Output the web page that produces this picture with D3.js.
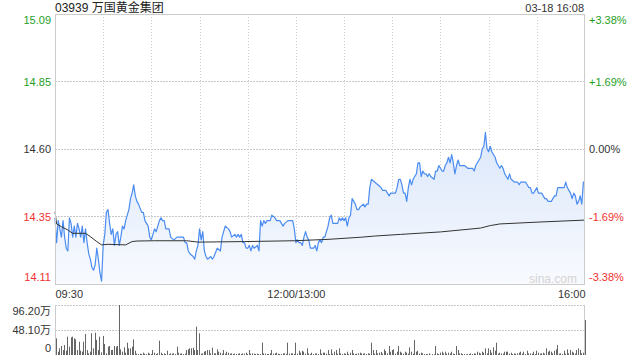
<!DOCTYPE html>
<html>
<head>
<meta charset="utf-8">
<style>
  body { margin: 0; background: #fff; }
</style>
</head>
<body>
<svg width="640" height="360"></svg>
<script src="https://d3js.org/d3.v7.min.js"></script>
<script>
  var title = "03939 万国黄金集团",
      stamp = "03-18 16:08",
      preClose = 14.60;

  var priceTicks = [14.11, 14.355, 14.60, 14.845, 15.09],
      priceLabels = ["14.11", "14.35", "14.60", "14.85", "15.09"],
      pctLabels = ["-3.38%", "-1.69%", "0.00%", "+1.69%", "+3.38%"];

  var timeTicks = [0, 150, 330],
      timeLabels = ["09:30", "12:00/13:00", "16:00"],
      gridMinutes = [30, 60, 90, 120, 150, 180, 210, 240, 270, 300];

  var volTicks = [0, 48.1, 96.2],
      volLabels = ["0", "48.10万", "96.20万"];

  // minute index from 09:30 (lunch break removed), last price
  var priceMinutes = [
    0,1,2,3,4,5,6,7,8,9,10,11,12,13,14,15,16,17,18,19,
    20,21,22,23,24,25,26,27,28,29,30,31,32,33,34,35,36,37,38,39,
    40,41,42,43,44,45,46,47,48,49,50,51,52,54,55,56,58,59,60,61,
    62,63,64,65,66,67,68,69,70,71,72,74,76,78,80,81,82,83,84,86,
    87,88,89,90,91,92,93,94,95,97,98,99,101,103,104,105,106,108,109,110,
    112,113,114,115,116,117,118,119,120,121,122,123,124,126,127,128,129,130,131,132,
    134,135,137,138,140,141,142,143,145,146,148,149,150,151,152,153,154,155,156,157,
    158,159,161,162,163,164,165,166,167,168,169,170,171,172,173,175,176,177,178,179,
    180,181,182,183,184,185,186,187,188,189,190,192,193,194,195,196,197,199,201,203,
    204,206,208,209,210,211,212,213,214,215,216,217,218,219,220,221,222,223,224,225,
    226,227,228,229,230,231,232,233,234,236,237,238,239,240,241,242,243,244,245,246,
    247,248,249,250,251,252,253,255,257,259,260,261,262,263,265,266,267,268,269,270,
    271,272,273,274,275,276,277,278,279,280,281,282,283,284,286,288,289,290,293,294,
    295,296,297,298,299,300,301,302,303,304,305,306,307,308,309,310,311,312,313,314,
    316,317,318,319,320,321,322,323,324,325,326,327,328,329,330
  ];
  var prices = [
    14.35,14.26,14.34,14.31,14.28,14.34,14.28,14.24,14.23,14.35,14.33,14.28,14.32,14.28,14.33,14.31,14.28,14.32,14.26,14.31,
    14.26,14.22,14.20,14.17,14.16,14.18,14.24,14.20,14.15,14.12,14.25,14.29,14.37,14.38,14.33,14.29,14.31,14.25,14.29,14.30,
    14.25,14.28,14.32,14.31,14.34,14.36,14.38,14.42,14.44,14.47,14.43,14.41,14.40,14.37,14.37,14.34,14.32,14.28,14.27,14.29,
    14.31,14.30,14.32,14.34,14.35,14.34,14.34,14.31,14.31,14.31,14.28,14.27,14.28,14.28,14.28,14.26,14.26,14.23,14.22,14.21,
    14.20,14.23,14.25,14.31,14.27,14.30,14.23,14.21,14.20,14.21,14.20,14.21,14.24,14.23,14.28,14.30,14.32,14.31,14.30,14.28,
    14.29,14.28,14.29,14.28,14.29,14.26,14.26,14.24,14.24,14.25,14.23,14.25,14.24,14.25,14.23,14.34,14.32,14.34,14.33,14.34,
    14.34,14.36,14.35,14.34,14.34,14.33,14.32,14.33,14.34,14.34,14.34,14.31,14.26,14.27,14.26,14.26,14.25,14.28,14.30,14.28,
    14.27,14.24,14.24,14.25,14.23,14.26,14.27,14.26,14.28,14.28,14.30,14.32,14.35,14.36,14.33,14.33,14.33,14.35,14.34,14.35,
    14.34,14.35,14.32,14.35,14.36,14.42,14.41,14.40,14.38,14.38,14.39,14.40,14.39,14.40,14.40,14.46,14.49,14.48,14.47,14.46,
    14.45,14.45,14.43,14.44,14.44,14.44,14.44,14.46,14.49,14.49,14.47,14.44,14.44,14.41,14.46,14.49,14.47,14.49,14.50,14.51,
    14.55,14.55,14.50,14.52,14.51,14.51,14.50,14.51,14.50,14.49,14.52,14.52,14.54,14.53,14.52,14.52,14.54,14.55,14.57,14.55,
    14.58,14.55,14.51,14.54,14.56,14.54,14.54,14.54,14.53,14.53,14.53,14.52,14.54,14.55,14.57,14.60,14.61,14.66,14.60,14.59,
    14.61,14.59,14.58,14.57,14.55,14.54,14.53,14.54,14.53,14.51,14.50,14.49,14.51,14.49,14.48,14.48,14.47,14.48,14.48,14.47,
    14.46,14.46,14.44,14.44,14.45,14.46,14.44,14.44,14.44,14.43,14.42,14.42,14.41,14.41,14.41,14.42,14.43,14.43,14.46,14.46,
    14.46,14.46,14.48,14.46,14.45,14.44,14.42,14.44,14.43,14.40,14.41,14.43,14.40,14.48,14.48
  ];

  // average price line
  var avgMinutes = [0,1,4,8,11,19,22,26,29,33,44,48,51,62,82,89,118,149,170,191,199,215,240,265,271,277,302,330];
  var avgPrices = [14.372,14.328,14.318,14.306,14.294,14.294,14.282,14.264,14.252,14.254,14.252,14.264,14.266,14.267,
                   14.267,14.262,14.264,14.267,14.272,14.280,14.284,14.290,14.299,14.313,14.322,14.328,14.335,14.342];

  // volume per minute, in 万 shares
  var volumes = [
    10.9,32.1,6.4,12.8,17.3,9.6,19.2,8.3,35.3,16.0,
    34.0,35.3,32.1,30.1,9.6,25.6,8.3,6.4,25.6,40.4,
    9.6,3.2,6.4,41.7,12.8,42.9,28.9,9.6,35.3,5.1,
    36.6,21.2,3.2,16.0,17.3,9.6,9.6,17.3,16.0,17.3,
    96.2,10.9,6.4,14.7,4.5,23.7,12.8,12.8,16.0,30.1,
    8.3,2.6,1.9,2.6,1.9,4.5,2.6,1.9,4.5,2.6,
    1.9,9.6,4.5,1.9,3.2,27.6,4.5,1.9,3.2,1.9,
    8.3,1.9,3.2,2.6,3.2,1.9,16.0,4.5,2.6,3.2,
    1.9,2.6,9.6,10.9,12.8,12.8,14.1,9.6,54.5,9.6,
    41.7,2.6,3.2,6.4,7.7,9.6,9.6,3.2,14.1,3.2,
    3.2,10.9,6.4,4.5,2.6,9.6,2.6,6.4,4.5,2.6,
    3.2,1.9,2.6,1.9,2.6,3.2,1.9,3.2,2.6,4.5,
    1.9,9.6,2.6,3.2,2.6,1.9,2.6,1.9,1.9,23.7,
    3.2,2.6,1.9,1.9,3.2,9.6,2.6,3.2,4.5,2.6,
    1.9,1.9,3.2,3.2,1.9,23.7,2.6,3.2,3.2,1.9,
    23.7,2.6,8.3,4.5,8.3,6.4,2.6,12.8,3.2,1.9,
    4.5,1.9,2.6,3.2,1.9,10.9,2.6,4.5,4.5,2.6,
    9.6,1.9,10.9,2.6,6.4,9.6,2.6,12.8,3.2,1.9,
    3.2,2.6,6.4,1.9,4.5,9.6,3.2,1.9,2.6,3.2,
    4.5,3.2,2.6,3.2,1.9,3.2,2.6,23.7,9.6,2.6,
    9.6,3.2,4.5,5.8,2.6,10.9,7.7,3.2,17.3,6.4,
    9.6,10.9,2.6,6.4,17.3,6.4,4.5,2.6,6.4,4.5,
    2.6,14.7,6.4,2.6,28.9,6.4,8.3,2.6,4.5,3.2,
    1.9,1.9,1.9,3.2,0.6,1.9,1.3,17.3,3.2,1.9,
    4.5,6.4,3.2,6.4,2.6,4.5,3.2,6.4,2.6,1.9,
    17.3,9.6,3.2,3.2,1.9,1.9,1.3,1.9,1.9,3.2,
    1.9,3.2,2.6,6.4,4.5,2.6,6.4,4.5,12.8,3.2,
    12.8,9.6,4.5,14.7,8.3,23.7,2.6,4.5,3.2,2.6,
    6.4,6.4,6.4,2.6,4.5,1.9,3.2,2.6,3.2,4.5,
    6.4,2.6,6.4,1.9,8.3,3.2,3.2,2.6,6.4,1.9,
    8.3,4.5,2.6,3.2,4.5,2.6,12.8,6.4,8.3,6.4,
    3.2,8.3,10.9,19.2,2.6,3.2,1.9,8.3,2.6,10.9,
    3.2,9.6,6.4,4.5,2.6,9.6,12.8,9.6,3.2,4.5,
    67.3
  ];

  var FONT = "'Liberation Sans', Arial, 'Noto Sans CJK SC', sans-serif",
      UP = "#1fa01f", DOWN = "#f03232", FLAT = "#333";

  var svg = d3.select("svg"),
      pLeft = 55, pRight = 585, pTop = 14, pBottom = 284,
      vTop = 305, vBottom = 355;

  var x = d3.scaleLinear().domain([0, 330]).range([pLeft, pRight]);
  var y = d3.scaleLinear().domain([14.11, 15.09]).range([pBottom, pTop]);
  var vy = d3.scaleLinear().domain([0, 96.2]).range([vBottom, vTop]);

  function tone(v) { return v > preClose + 1e-9 ? UP : (v < preClose - 1e-9 ? DOWN : FLAT); }

  var defs = svg.append("defs");
  var grad = defs.append("linearGradient").attr("id", "fill")
      .attr("gradientUnits", "userSpaceOnUse")
      .attr("x1", 0).attr("y1", y(14.66)).attr("x2", 0).attr("y2", pBottom);
  grad.append("stop").attr("offset", "0%").attr("stop-color", "#dbe7fb");
  grad.append("stop").attr("offset", "100%").attr("stop-color", "#f8fafe");

  // grid
  svg.append("g").selectAll("line").data(gridMinutes).enter().append("line")
      .attr("x1", function(d) { return Math.round(x(d)) + 0.5; })
      .attr("x2", function(d) { return Math.round(x(d)) + 0.5; })
      .attr("y1", pTop).attr("y2", pBottom)
      .attr("stroke", "#cfcfcf").attr("stroke-dasharray", "1,2");
  svg.append("g").selectAll("line").data(priceTicks.slice(1, 4)).enter().append("line")
      .attr("x1", pLeft).attr("x2", pRight)
      .attr("y1", function(d) { return Math.round(y(d)) + 0.5; })
      .attr("y2", function(d) { return Math.round(y(d)) + 0.5; })
      .attr("stroke", "#c8c8c8").attr("stroke-dasharray", "2,1");

  var pts = priceMinutes.map(function(m, i) { return [m, prices[i]]; });
  var avg = avgMinutes.map(function(m, i) { return [m, avgPrices[i]]; });

  svg.append("path").datum(pts)
      .attr("fill", "url(#fill)")
      .attr("d", d3.area().x(function(d) { return x(d[0]); }).y0(pBottom).y1(function(d) { return y(d[1]); }));

  svg.append("path").datum(pts)
      .attr("fill", "none").attr("stroke", "#4a8cf0").attr("stroke-width", 1.2)
      .attr("stroke-linejoin", "round")
      .attr("d", d3.line().x(function(d) { return x(d[0]); }).y(function(d) { return y(d[1]); }));

  svg.append("path").datum(avg)
      .attr("fill", "none").attr("stroke", "#333").attr("stroke-width", 1)
      .attr("d", d3.line().x(function(d) { return x(d[0]); }).y(function(d) { return y(d[1]); }));

  // frame
  svg.append("rect").attr("x", pLeft + 0.5).attr("y", pTop + 0.5)
      .attr("width", pRight - pLeft - 1).attr("height", pBottom - pTop)
      .attr("fill", "none").attr("stroke", "#cccccc");

  svg.append("text").attr("x", 553).attr("y", 279).attr("dy", "0.35em")
      .attr("text-anchor", "middle").attr("font-family", FONT).attr("font-size", 12)
      .attr("fill", "#d4d4d4").text("sina.com");

  // price axes, edge labels pulled inside the frame
  var shift = function(i) { return i === 0 ? -7 : (i === priceTicks.length - 1 ? 6 : 0); };

  var gl = svg.append("g").attr("transform", "translate(51,0)")
      .call(d3.axisLeft(y).tickValues(priceTicks).tickSize(0).tickPadding(0)
        .tickFormat(function(d, i) { return priceLabels[i]; }));
  gl.select(".domain").remove();
  gl.selectAll("text").attr("font-family", FONT).attr("font-size", 11)
      .attr("fill", function(d) { return tone(d); })
      .attr("y", function(d, i) { return shift(i); });

  var gr = svg.append("g").attr("transform", "translate(589,0)")
      .call(d3.axisRight(y).tickValues(priceTicks).tickSize(0).tickPadding(0)
        .tickFormat(function(d, i) { return pctLabels[i]; }));
  gr.select(".domain").remove();
  gr.selectAll("text").attr("font-family", FONT).attr("font-size", 11)
      .attr("fill", function(d) { return tone(d); })
      .attr("y", function(d, i) { return shift(i); });

  // time axis
  var gx = svg.append("g").attr("transform", "translate(0,290)")
      .call(d3.axisBottom(x).tickValues(timeTicks).tickSize(0).tickPadding(0)
        .tickFormat(function(d, i) { return timeLabels[i]; }));
  gx.select(".domain").remove();
  gx.selectAll("text").attr("font-family", FONT).attr("font-size", 11).attr("fill", "#333")
      .attr("text-anchor", function(d, i) { return i === 0 ? "start" : (i === timeTicks.length - 1 ? "end" : "middle"); });

  // title
  svg.append("text").attr("x", pLeft).attr("y", 8).attr("dy", "0.35em")
      .attr("font-family", FONT).attr("font-size", 12).attr("fill", "#222").text(title);
  svg.append("text").attr("x", pRight - 1).attr("y", 8).attr("dy", "0.35em").attr("text-anchor", "end")
      .attr("font-family", FONT).attr("font-size", 11).attr("fill", "#333").text(stamp);

  // volume
  svg.append("g").selectAll("line").data(volTicks.slice(1)).enter().append("line")
      .attr("x1", pLeft).attr("x2", pRight)
      .attr("y1", function(d) { return Math.round(vy(d)) + 0.5; })
      .attr("y2", function(d) { return Math.round(vy(d)) + 0.5; })
      .attr("stroke", "#c8c8c8").attr("stroke-dasharray", "2,1");

  svg.append("g").selectAll("rect").data(volumes).enter().append("rect")
      .attr("x", function(d, i) { return Math.floor(x(i)); })
      .attr("width", 1)
      .attr("y", function(d) { return vy(d); })
      .attr("height", function(d) { return vBottom - vy(d); })
      .attr("fill", "#666");

  svg.append("line").attr("x1", pLeft + 0.5).attr("x2", pLeft + 0.5).attr("y1", vTop).attr("y2", vBottom)
      .attr("stroke", "#cccccc");
  svg.append("line").attr("x1", pRight - 0.5).attr("x2", pRight - 0.5).attr("y1", vTop).attr("y2", vBottom)
      .attr("stroke", "#cccccc");

  var gv = svg.append("g").attr("transform", "translate(51,0)")
      .call(d3.axisLeft(vy).tickValues(volTicks).tickSize(0).tickPadding(0)
        .tickFormat(function(d, i) { return volLabels[i]; }));
  gv.select(".domain").remove();
  gv.selectAll("text").attr("font-family", FONT).attr("font-size", 11).attr("fill", "#333")
      .attr("y", function(d, i) { return i === 0 ? -7 : (i === volTicks.length - 1 ? 6 : 0); });
</script>
</body>
</html>
